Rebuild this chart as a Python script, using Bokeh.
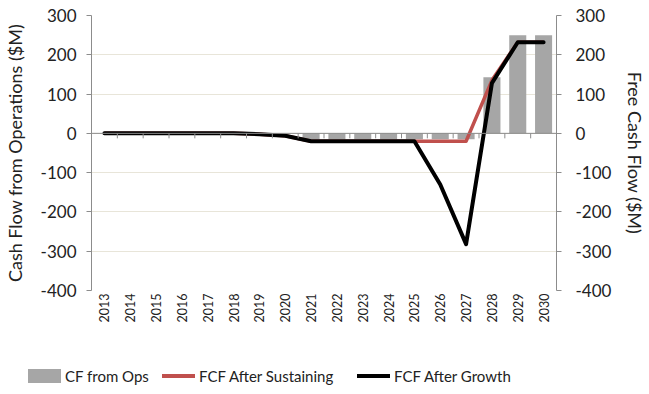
import math

from bokeh.plotting import figure
from bokeh.layouts import column
from bokeh.models import (FactorRange, Range1d, LinearAxis, Span, FixedTicker,
                          ColumnDataSource, Div)
from bokeh.embed import file_html
from bokeh.resources import INLINE

# Annual cash flow projections ($M)
years = [str(y) for y in range(2013, 2031)]
cf_from_ops = [0, 0, 0, 0, 0, 0, 0, 0, -15, -15, -15, -15, -15, -15, -15, 143, 250, 250]
fcf_after_sustaining = [0, 0, 0, 0, 0, 0, -2, -6, -20, -20, -20, -20, -20, -20, -20, 135, 232, 232]
fcf_after_growth = [0, 0, 0, 0, 0, 0, -2, -6, -20, -20, -20, -20, -20, -130, -282, 128, 232, 232]
y_ticks = [-400, -300, -200, -100, 0, 100, 200, 300]
series_names = ["CF from Ops", "FCF After Sustaining", "FCF After Growth"]

FONT = "Lato"
TEXT = "#222222"
AXIS_GREY = "#8c8c8c"
GRID = "#e8e5d9"
BAR = "#a6a6a6"
RED = "#c0504d"

src = ColumnDataSource(dict(year=years, ops=cf_from_ops,
                            sus=fcf_after_sustaining, grow=fcf_after_growth))

p = figure(width=649, height=356, x_range=FactorRange(*years),
           y_range=Range1d(y_ticks[0], y_ticks[-1]),
           output_backend="svg", toolbar_location=None,
           min_border_left=91, min_border_right=91,
           min_border_top=15, min_border_bottom=66)
p.outline_line_color = None
p.background_fill_color = "white"
p.border_fill_color = "white"

# bars and lines
p.vbar(x="year", top="ops", width=0.66, source=src, fill_color=BAR, line_color=None)
p.line(x="year", y="sus", source=src, line_color=RED, line_width=3.5, line_join="round")
p.line(x="year", y="grow", source=src, line_color="black", line_width=4,
       line_join="round", line_cap="round")

# grid
p.xgrid.visible = False
p.ygrid.ticker = FixedTicker(ticks=y_ticks)
p.ygrid.grid_line_color = GRID
p.ygrid.grid_line_width = 1

tick_text = {t: str(t) for t in y_ticks}


def style_value_axis(ax, tick_standoff, title_standoff):
    ax.ticker = FixedTicker(ticks=y_ticks)
    ax.major_label_overrides = tick_text
    ax.major_label_text_font = FONT
    ax.major_label_text_font_size = "17px"
    ax.major_label_text_color = TEXT
    ax.major_label_standoff = tick_standoff
    ax.axis_line_color = AXIS_GREY
    ax.major_tick_line_color = AXIS_GREY
    ax.major_tick_out = 5
    ax.major_tick_in = 0
    ax.minor_tick_line_color = None
    ax.axis_label_text_font = FONT
    ax.axis_label_text_font_size = "18px"
    ax.axis_label_text_font_style = "normal"
    ax.axis_label_text_color = TEXT
    ax.axis_label_standoff = title_standoff


# left axis
la = p.yaxis[0]
la.axis_label = "Cash Flow from Operations ($M)"
style_value_axis(la, 10, 12)

# right axis
p.extra_y_ranges = {"fcf": Range1d(y_ticks[0], y_ticks[-1])}
ra = LinearAxis(y_range_name="fcf", axis_label="Free Cash Flow ($M)")
style_value_axis(ra, 14, 10)
p.add_layout(ra, "right")

# category axis (labels only)
xa = p.xaxis[0]
xa.axis_line_color = None
xa.major_tick_line_color = None
xa.major_tick_out = 0
xa.major_tick_in = 0
xa.major_label_orientation = math.pi / 2
xa.major_label_text_font = FONT
xa.major_label_text_font_size = "12.5px"
xa.major_label_text_color = TEXT
xa.major_label_standoff = 3

# zero line with category boundary ticks
p.add_layout(Span(location=0, dimension="width", line_color=AXIS_GREY, line_width=1))
n = len(years)
bounds = list(range(1, n))
tick_len = 5 * (y_ticks[-1] - y_ticks[0]) / 275
p.segment(x0=bounds, x1=bounds, y0=[0] * len(bounds), y1=[-tick_len] * len(bounds),
          line_color=AXIS_GREY, line_width=1)

# legend strip below the chart: one key per series
key_left = [23, 157, 352]
key_swatch = [(BAR, 14), (RED, 3.5), ("black", 4)]
parts = []
for name, left, (color, thick) in zip(series_names, key_left, key_swatch):
    parts.append(
        f'<div style="position:absolute;left:{left}px;top:{15 - thick / 2}px;'
        f'width:33px;height:{thick}px;background:{color};"></div>'
        f'<div style="position:absolute;left:{left + 37}px;top:5px;height:20px;'
        f'line-height:20px;white-space:nowrap;">{name}</div>')
legend_html = (f'<div style="position:relative;width:649px;height:38px;'
               f'font-family:{FONT};font-size:15px;color:{TEXT};">'
               + "".join(parts) + "</div>")
legend_strip = Div(text=legend_html, width=649, height=38)

open("out.html", "w").write(file_html(column(p, legend_strip, spacing=0), INLINE))
